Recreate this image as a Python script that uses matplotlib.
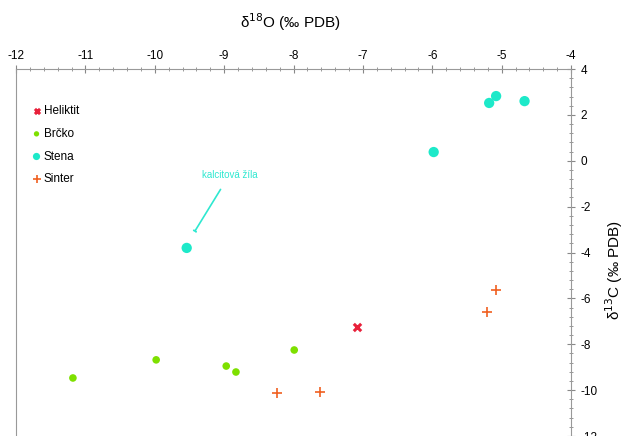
import matplotlib.pyplot as plt
from matplotlib.ticker import MultipleLocator

plt.rcParams['font.family'] = ['Liberation Sans', 'DejaVu Sans']
plt.rcParams['axes.unicode_minus'] = False

# data (d18O, d13C)
helik_x = [-7.09]
helik_y = [-7.25]
brcko_x = [-11.18, -9.98, -8.97, -8.83, -7.99]
brcko_y = [-9.47, -8.68, -8.95, -9.21, -8.25]
stena_x = [-9.54, -5.98, -5.18, -5.08, -4.67]
stena_y = [-3.80, 0.38, 2.52, 2.82, 2.60]
sinter_x = [-8.24, -7.62, -5.21, -5.08]
sinter_y = [-10.12, -10.08, -6.59, -5.63]

fig = plt.figure(figsize=(6.26, 4.36), dpi=100)
ax = fig.add_axes([0.0256, 0.0, 0.8866, 0.8417])

ax.scatter(helik_x, helik_y, marker='x', s=28, color='#e8203a', linewidths=2.2, label='Heliktit', zorder=3)
ax.scatter(brcko_x, brcko_y, marker='o', s=30, color='#7ee000', edgecolors='none', label='Brčko', zorder=3)
ax.scatter(stena_x, stena_y, marker='o', s=55, color='#1de9c9', edgecolors='none', label='Stena', zorder=3)
ax.scatter(sinter_x, sinter_y, marker='+', s=60, color='#f06020', linewidths=1.2, label='Sinter', zorder=3)

ax.annotate('kalcitová žíla', xy=(-9.42, -3.06), xytext=(-8.92, -0.6),
            color='#2ee8d0', fontsize=7, ha='center', va='center',
            arrowprops=dict(arrowstyle='-[', color='#2ee8d0', lw=1.2, mutation_scale=1,
                            shrinkA=6, shrinkB=0))

ax.set_xlim(-12, -4)
ax.set_ylim(-12, 4)
ax.xaxis.set_major_locator(MultipleLocator(1))
ax.xaxis.set_minor_locator(MultipleLocator(0.2))
ax.yaxis.set_major_locator(MultipleLocator(2))
ax.yaxis.set_minor_locator(MultipleLocator(0.4))
ax.xaxis.tick_top()
ax.yaxis.tick_right()
ax.tick_params(which='major', direction='inout', length=6, width=0.8, color='#888888',
               labelsize=8.5, pad=4)
ax.tick_params(axis='x', which='major', pad=2)
ax.tick_params(which='minor', direction='inout', length=3, width=0.6, color='#888888')
for side in ['top', 'right', 'left']:
    ax.spines[side].set_color('#999999')
ax.spines['bottom'].set_visible(False)

# axis titles
fig.text(290 / 626, 1 - 22 / 436, 'δ$^{18}$O (‰ PDB)', fontsize=11, ha='center', va='center')
fig.text(614 / 626, 1 - 270 / 436, 'δ$^{13}$C (‰ PDB)', fontsize=11, rotation=90,
         ha='center', va='center')

ax.legend(loc='upper left', bbox_to_anchor=(0.005, 0.93), frameon=False, fontsize=8.5,
          handletextpad=0.0, labelspacing=0.9, handlelength=1.2, markerscale=0.7)

fig.savefig('out.png', dpi=100)
